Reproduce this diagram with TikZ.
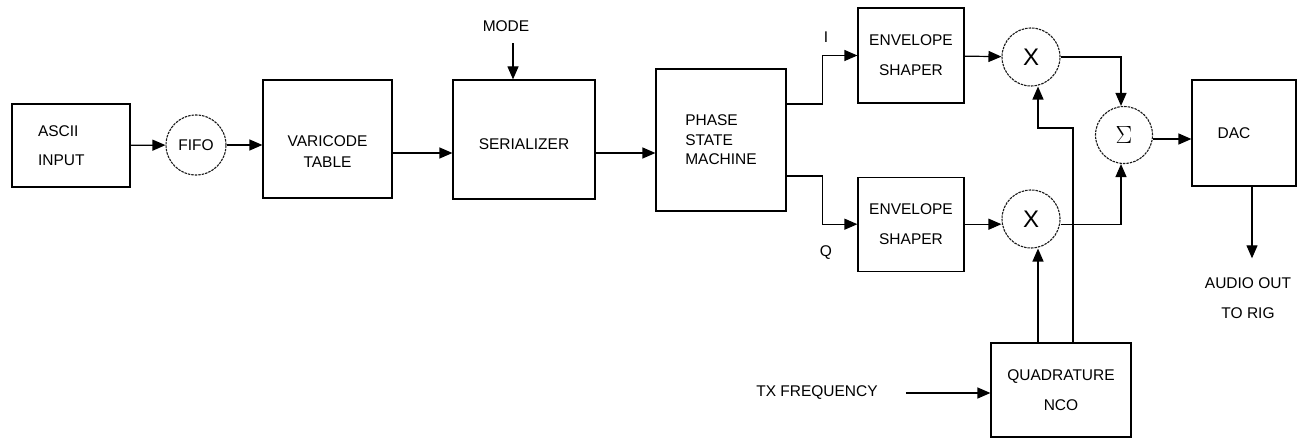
\documentclass[tikz,border=0pt]{standalone}
\usepackage{fontspec}
\setmainfont{Liberation Sans}
\usetikzlibrary{arrows.meta, positioning}

\begin{document}
\begin{tikzpicture}[
        x=1pt, y=-1pt,
        box/.style={rectangle, draw, line width=1.2pt, align=center, inner sep=0pt, font=\fontsize{15.5}{18}\selectfont},
        junc/.style={circle, draw=black!90, line width=1.1pt, dash pattern=on 2.5pt off 1pt, inner sep=0pt, minimum size=58pt, font=\fontsize{24}{24}\selectfont},
        arrow/.style={-{Triangle[length=13pt,width=11pt]}, line width=1.2pt},
        txt/.style={font=\fontsize{15.5}{18}\selectfont, align=center, inner sep=0pt}
    ]
    \useasboundingbox (0,0) rectangle (1297,438);

    \node[box, minimum width=118pt, minimum height=83pt, text width=66pt, align=left] (ascii) at (71,145.5) {ASCII\\[11pt]INPUT};
    \node[junc, minimum size=60pt, font=\fontsize{15.5}{18}\selectfont] (fifo) at (196,145) {FIFO};
    \node[box, minimum width=129pt, minimum height=118pt, label={[txt, yshift=-13pt]center:VARICODE\\[3pt]TABLE}] (varicode) at (327.5,139) {};
    \node[box, minimum width=142pt, minimum height=119pt, label={[txt, yshift=-5pt]center:SERIALIZER}] (serializer) at (524,139.5) {};
    \node[box, minimum width=130pt, minimum height=142pt, align=left] (psm) at (721,140) {PHASE\\[1.5pt]STATE\\[1.5pt]MACHINE};
    \node[box, minimum width=106pt, minimum height=95pt] (envI) at (911,55.5) {ENVELOPE\\[12pt]SHAPER};
    \node[box, minimum width=106pt, minimum height=94pt, below=73pt of envI] (envQ) {ENVELOPE\\[12pt]SHAPER};
    \node[junc] (mulI) at (1031,57) {X};
    \node[junc] (mulQ) at (1031,219) {X};
    \node[junc, minimum size=57pt, font=\fontsize{26}{26}\selectfont] (sigma) at (1124,135) {$\Sigma$};
    \node[box, minimum width=104pt, minimum height=106pt, label={[txt, xshift=-10pt]center:DAC}] (dac) at (1244,133) {};
    \node[box, minimum width=140pt, minimum height=94pt] (nco) at (1061,390) {QUADRATURE\\[12pt]NCO};

    \node[txt, inner ysep=11.6pt] (mode) at (506,26) {MODE};
    \node[txt] (txf) at (817,393) {TX FREQUENCY};
    \node[txt] (audio) at (1248,298) {AUDIO OUT\\[12pt]TO RIG};
    \node[txt] (ilab) at (826,37) {I};
    \node[txt] (qlab) at (826,253) {Q};

    \coordinate (modein) at ([xshift=-11pt]serializer.north);
    \coordinate (ncoQ) at ([xshift=-23pt]nco.north);
    \coordinate (ncoI) at ([xshift=12pt]nco.north);
    \coordinate (jog) at (1038,128);
    \coordinate (dacout) at ([xshift=8pt]dac.south);
    \coordinate (audiotop) at ([yshift=19pt]audio.north);

    \draw[arrow] (ascii) -- (fifo);
    \draw[arrow] (fifo.east) -- (fifo.east -| varicode.west);
    \draw[arrow] ([yshift=-14pt]varicode.east) -- ([yshift=-14pt]varicode.east -| serializer.west);
    \draw[arrow] (mode.south -| modein) -- (modein);
    \draw[arrow] ([yshift=-13.5pt]serializer.east) -- ([yshift=-13.5pt]serializer.east -| psm.west);
    \draw[arrow] ([yshift=36pt]psm.east) -- ++(36,0) |- (envI.west);
    \draw[arrow] ([yshift=-36pt]psm.east) -- ++(36,0) |- (envQ.west);
    \draw[arrow] (envI) -- (mulI);
    \draw[arrow] (envQ.east) -- (envQ.east -| mulQ.west);
    \draw[arrow] (mulI.east) -| ([xshift=-3pt]sigma.north);
    \draw[arrow] (envQ.east -| mulQ.east) -| ([xshift=-3pt]sigma.south);
    \draw[arrow] ([yshift=-4pt]sigma.east) -- ([yshift=-4pt]sigma.east -| dac.west);
    \draw[arrow] (ncoQ) -- (ncoQ |- mulQ.south);
    \draw[arrow] (ncoI) |- (jog) -- (jog |- mulI.south);
    \draw[arrow] ([xshift=28pt]txf.east) -- (txf.east -| nco.west);
    \draw[arrow] (dacout) -- (dacout |- audiotop);

\end{tikzpicture}
\end{document}
